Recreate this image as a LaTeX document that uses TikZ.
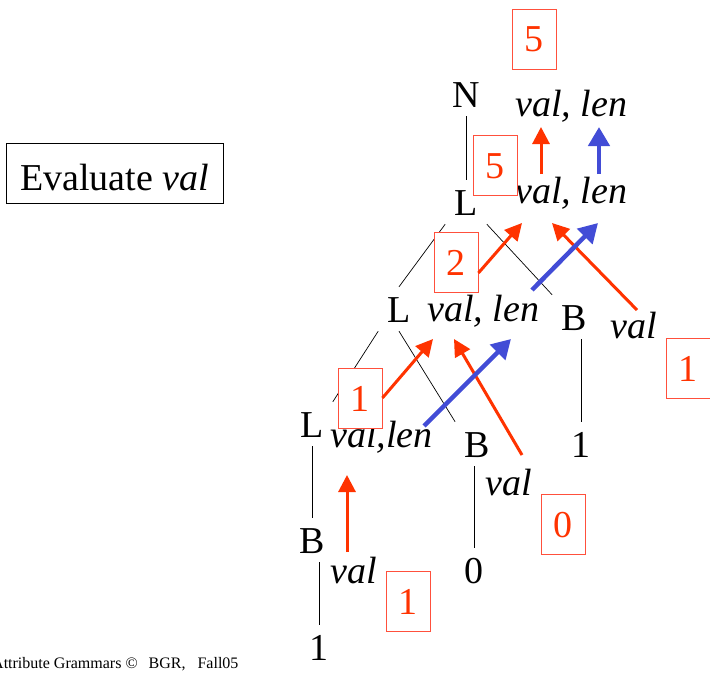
\documentclass[tikz,border=0pt]{standalone}
\usepackage{fontspec}
\setmainfont{Liberation Serif}
\usetikzlibrary{arrows.meta}
\definecolor{AGRed}{RGB}{255,51,0}
\definecolor{AGBlue}{RGB}{66,76,214}
\definecolor{AGBox}{RGB}{255,80,60}

\begin{document}
\begin{tikzpicture}[x=1pt, y=-1pt,
    font=\fontsize{38}{44}\selectfont,
    sym/.style={inner sep=9pt, text height=26pt, text depth=0pt, anchor=base},
    attr/.style={inner sep=0pt, anchor=base west, font=\fontsize{38}{44}\selectfont\itshape},
    valbox/.style={draw=AGBox, fill=white, line width=0.8pt, minimum width=44pt,
                   minimum height=60pt, inner sep=0pt, text height=26pt, text depth=0pt,
                   text=AGRed},
    edge/.style={line width=0.7pt},
    redflow/.style={-{Triangle[length=17pt, width=17pt]}, line width=3pt, AGRed},
    blueflow/.style={-{Triangle[length=19pt, width=21pt]}, line width=4.5pt, AGBlue},
  ]
  \useasboundingbox (0,0) rectangle (710,677);

  % title and footer
  \node[draw, line width=0.8pt, minimum width=217pt, minimum height=60pt, inner sep=0pt,
        text height=36pt, text depth=2pt] (title) at (114.5,173) {Evaluate \textit{val}};
  \node[anchor=base west, inner sep=0pt, font=\fontsize{16}{19}\selectfont] (foot) at (-8,668)
    {Attribute Grammars \textcopyright\hspace{11pt}BGR,\hspace{12pt}Fall05};

  % parse tree
  \node[sym] (N)  at (466,107) {N};
  \node[sym] (L2) at (466,215) {L};
  \node[sym] (L3) at (399,322) {L};
  \node[sym] (Br) at (574,330) {B};
  \node[sym] (L4) at (312,437) {L};
  \node[sym] (Bm) at (477,457) {B};
  \node[sym] (1r) at (581,457) {1};
  \node[sym] (Bb) at (312,553) {B};
  \node[sym] (0m) at (474,583) {0};
  \node[sym] (1b) at (319,660) {1};

  \draw[edge] (N) -- (L2);
  \draw[edge] (L2.south west) -- (L3.north);
  \draw[edge] (L2.south east) -- (Br.north west);
  \draw[edge] (L3.south west) -- (L4.north east);
  \draw[edge] (L3.south) -- (Bm.north west);
  \draw[edge] (1r.north |- Br.south) -- (1r.north);
  \draw[edge] (L4) -- (Bb);
  \draw[edge] (0m.north |- Bm.south) -- (0m.north);
  \draw[edge] (1b.north |- Bb.south) -- (1b.north);

  % attributes
  \node[attr] (Nattr)  at (515,117) {val, len};
  \node[attr] (L2attr) at (515,203) {val, len};
  \node[attr] (L3attr) at (427,321) {val, len};
  \node[attr] (Brattr) at (610,338) {val};
  \node[attr] (L4attr) at (330,447) {val,len};
  \node[attr] (Bmattr) at (485,495) {val};
  \node[attr] (Bbattr) at (330,583) {val};

  % computed values
  \node[valbox] (v5top) at (534,39)  {5};
  \node[valbox] (v5)    at (495,165) {5};
  \node[valbox] (v2)    at (456,262) {2};
  \node[valbox] (v1r)   at (688,368) {1};
  \node[valbox] (v1m)   at (360,398) {1};
  \node[valbox] (v0)    at (563,524) {0};
  \node[valbox] (v1b)   at (408,601) {1};

  % flow of val (red) and len (blue)
  \coordinate (tNval) at (541,127);
  \coordinate (tNlen) at (599,127);
  \coordinate (sL2val) at (541,174);
  \coordinate (sL2len) at (599,174);
  \coordinate (tL2val) at (522,223);
  \coordinate (tL2valB) at (552,223);
  \coordinate (tL2len) at (598,223);
  \coordinate (sL3len) at (532,290);
  \coordinate (sBrval) at (637,310);
  \coordinate (tL3val) at (433,339);
  \coordinate (tL3valB) at (454,339);
  \coordinate (tL3len) at (511,339);
  \coordinate (sL4len) at (424,426);
  \coordinate (sBmval) at (522,455);
  \coordinate (tL4val) at (347,475);
  \coordinate (sBbval) at (347,552);

  \draw[redflow] (sL2val) -- (tNval);
  \draw[redflow] (v2.east |- 0,273) -- (tL2val);
  \draw[redflow] (sBrval) -- (tL2valB);
  \draw[redflow] (v1m.east) -- (tL3val);
  \draw[redflow] (sBmval) -- (tL3valB);
  \draw[redflow] (sBbval) -- (tL4val);
  \draw[blueflow] (sL2len) -- (tNlen);
  \draw[blueflow] (sL3len) -- (tL2len);
  \draw[blueflow] (sL4len) -- (tL3len);
\end{tikzpicture}
\end{document}
